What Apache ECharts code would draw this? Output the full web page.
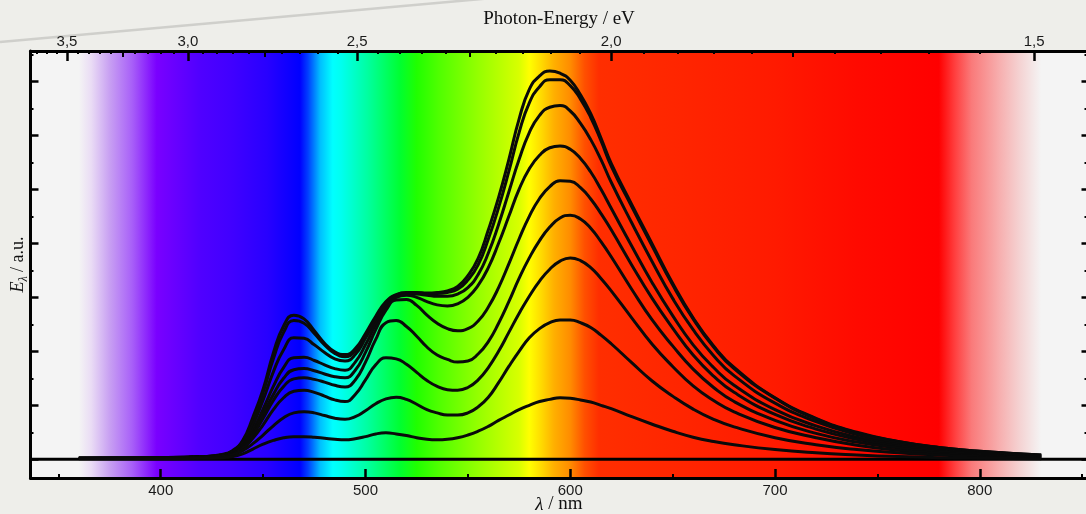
<!DOCTYPE html>
<html>
<head>
<meta charset="utf-8">
<script src="https://cdn.jsdelivr.net/npm/echarts@6/dist/echarts.min.js"></script>
<style>
  html, body { margin: 0; padding: 0; background: #eeeeea; }
  #chart { width: 1086px; height: 514px; }
</style>
</head>
<body>
<div id="chart"></div>
<script>
// ---------- data ----------
const wavelengths = [360, 400, 420, 430, 435, 440, 445, 450, 455, 460, 465, 470, 475, 480, 485, 490, 495, 500, 505, 510, 515, 520, 525, 530, 535, 540, 545, 550, 555, 560, 565, 570, 575, 580, 585, 590, 595, 600, 605, 610, 615, 620, 630, 640, 650, 660, 670, 680, 700, 720, 740, 760, 780, 800, 830];

const c1 = [0.02, 0.03, 0.05, 0.09, 0.16, 0.35, 0.78, 1.30, 1.97, 2.47, 2.67, 2.60, 2.38, 2.15, 1.99, 1.94, 2.05, 2.33, 2.65, 2.92, 3.05, 3.09, 3.09, 3.08, 3.09, 3.12, 3.20, 3.40, 3.72, 4.25, 4.85, 5.55, 6.30, 6.85, 7.10, 7.19, 7.15, 7.02, 6.75, 6.40, 5.95, 5.48, 4.72, 3.99, 3.26, 2.62, 2.10, 1.70, 1.14, 0.76, 0.50, 0.33, 0.22, 0.15, 0.08];
const c2 = [0.02, 0.03, 0.05, 0.08, 0.15, 0.33, 0.72, 1.24, 1.86, 2.35, 2.57, 2.52, 2.33, 2.12, 1.96, 1.90, 2.01, 2.29, 2.62, 2.90, 3.04, 3.08, 3.08, 3.07, 3.07, 3.09, 3.15, 3.32, 3.60, 4.08, 4.66, 5.33, 6.05, 6.60, 6.90, 7.03, 7.03, 6.92, 6.67, 6.33, 5.90, 5.43, 4.68, 3.95, 3.23, 2.60, 2.08, 1.68, 1.13, 0.75, 0.49, 0.33, 0.22, 0.15, 0.08];
const c3 = [0.02, 0.03, 0.05, 0.08, 0.14, 0.30, 0.64, 1.10, 1.62, 2.03, 2.25, 2.24, 2.12, 1.98, 1.86, 1.82, 1.94, 2.24, 2.58, 2.87, 3.03, 3.07, 3.06, 3.04, 3.02, 3.02, 3.06, 3.18, 3.42, 3.82, 4.35, 4.95, 5.55, 6.05, 6.37, 6.52, 6.55, 6.45, 6.22, 5.92, 5.55, 5.13, 4.38, 3.66, 2.98, 2.40, 1.92, 1.55, 1.04, 0.70, 0.46, 0.30, 0.20, 0.14, 0.07];
const c4 = [0.02, 0.03, 0.04, 0.07, 0.12, 0.27, 0.55, 0.93, 1.35, 1.70, 1.88, 1.89, 1.83, 1.75, 1.68, 1.65, 1.80, 2.12, 2.50, 2.82, 3.00, 3.04, 3.00, 2.92, 2.86, 2.84, 2.88, 3.00, 3.22, 3.55, 4.00, 4.50, 5.00, 5.38, 5.63, 5.77, 5.80, 5.74, 5.57, 5.32, 5.00, 4.65, 3.95, 3.27, 2.66, 2.12, 1.70, 1.37, 0.92, 0.62, 0.41, 0.27, 0.18, 0.12, 0.06];
const c5 = [0.02, 0.03, 0.04, 0.07, 0.11, 0.24, 0.49, 0.83, 1.20, 1.50, 1.66, 1.68, 1.64, 1.58, 1.53, 1.51, 1.65, 1.98, 2.40, 2.76, 2.95, 2.96, 2.85, 2.67, 2.52, 2.42, 2.38, 2.42, 2.56, 2.82, 3.18, 3.62, 4.08, 4.50, 4.83, 5.05, 5.16, 5.15, 5.03, 4.82, 4.55, 4.25, 3.60, 2.98, 2.43, 1.93, 1.54, 1.24, 0.83, 0.56, 0.37, 0.24, 0.16, 0.11, 0.05];
const c6 = [0.02, 0.03, 0.04, 0.06, 0.10, 0.22, 0.45, 0.76, 1.09, 1.35, 1.49, 1.51, 1.48, 1.43, 1.37, 1.34, 1.47, 1.80, 2.22, 2.53, 2.57, 2.46, 2.28, 2.08, 1.93, 1.85, 1.80, 1.82, 1.95, 2.18, 2.52, 2.92, 3.35, 3.73, 4.05, 4.30, 4.47, 4.52, 4.45, 4.28, 4.03, 3.75, 3.15, 2.58, 2.10, 1.67, 1.33, 1.07, 0.72, 0.48, 0.32, 0.21, 0.14, 0.09, 0.04];
const c7 = [0.02, 0.03, 0.04, 0.06, 0.09, 0.20, 0.39, 0.64, 0.92, 1.14, 1.26, 1.28, 1.24, 1.17, 1.10, 1.07, 1.20, 1.47, 1.75, 1.88, 1.86, 1.76, 1.61, 1.46, 1.35, 1.29, 1.28, 1.33, 1.47, 1.70, 2.00, 2.35, 2.70, 3.02, 3.30, 3.52, 3.67, 3.73, 3.68, 3.55, 3.35, 3.12, 2.62, 2.13, 1.72, 1.36, 1.09, 0.88, 0.59, 0.40, 0.26, 0.17, 0.11, 0.07, 0.03];
const c8 = [0.02, 0.02, 0.03, 0.05, 0.08, 0.16, 0.29, 0.45, 0.62, 0.77, 0.86, 0.88, 0.86, 0.81, 0.76, 0.74, 0.79, 0.90, 1.03, 1.12, 1.15, 1.11, 1.02, 0.92, 0.86, 0.82, 0.82, 0.86, 0.97, 1.15, 1.42, 1.72, 2.00, 2.25, 2.42, 2.53, 2.58, 2.58, 2.53, 2.44, 2.30, 2.14, 1.79, 1.45, 1.17, 0.93, 0.74, 0.60, 0.40, 0.27, 0.18, 0.12, 0.08, 0.05, 0.02];
const c9 = [0.01, 0.01, 0.02, 0.03, 0.05, 0.10, 0.19, 0.28, 0.35, 0.40, 0.42, 0.42, 0.41, 0.39, 0.37, 0.36, 0.38, 0.42, 0.47, 0.49, 0.47, 0.44, 0.40, 0.37, 0.36, 0.37, 0.40, 0.45, 0.52, 0.61, 0.72, 0.82, 0.92, 1.00, 1.07, 1.11, 1.14, 1.13, 1.10, 1.06, 1.00, 0.94, 0.79, 0.65, 0.52, 0.41, 0.33, 0.27, 0.18, 0.12, 0.08, 0.05, 0.03, 0.02, 0.01];
const spectra = [c1, c2, c3, c4, c5, c6, c7, c8, c9];

const nmTicks = [400, 500, 600, 700, 800];
const nmMinorTicks = [350, 450, 550, 650, 750, 850];
const eVTicks = [3.5, 3.0, 2.5, 2.0, 1.5];
const eVLabels = ['3,5', '3,0', '2,5', '2,0', '1,5'];
const eVMidTicks = [3.25, 2.75, 2.25, 1.75];
const eVMinorTicks = [3.65, 3.6, 3.55, 3.45, 3.4, 3.35, 3.3, 3.2, 3.15, 3.1, 3.05, 2.95, 2.9, 2.85, 2.8, 2.7, 2.65, 2.6, 2.55, 2.45, 2.4, 2.35, 2.3, 2.2, 2.15, 2.1, 2.05, 1.95, 1.9, 1.85, 1.8, 1.7, 1.65, 1.6, 1.55, 1.45];
const yMajorTicks = [0, 1, 2, 3, 4, 5, 6, 7];
const yMinorTicks = [0.5, 1.5, 2.5, 3.5, 4.5, 5.5, 6.5, 7.5];

// visible spectrum band behind the curves (wavelength, colour)
const spectrumNm = [360, 366, 375, 386, 398, 419, 435, 452, 468, 472, 478, 484, 488, 501, 517, 525, 536, 556, 575, 580, 585, 592, 600, 607, 614, 650, 700, 740, 780, 788, 796, 810, 820, 830];
const spectrumColors = ['#f4f4f4', '#eadcf5', '#c8a0f2', '#a860f8', '#7a00ff', '#5000ff', '#4000ff', '#2800ff', '#0000ff', '#0040ff', '#00c0ff', '#00ffff', '#00fff0', '#00ffa0', '#00ff30', '#20ff00', '#50ff00', '#98ff00', '#d8ff00', '#ffff00', '#ffe000', '#ffb000', '#ff8c00', '#ff5000', '#ff2e00', '#ff2600', '#ff1a00', '#ff0a00', '#ff0000', '#ff4040', '#fa7a7a', '#f7b0b0', '#f4d4d4', '#f4f4f4'];

// ---------- chart ----------
const X_MIN = 336.4, X_MAX = 852.6;
const Y_MIN = -0.346, Y_MAX = 7.561;
const HC = 1239.84; // eV*nm
const toNm = e => HC / e;

const chart = echarts.init(document.getElementById('chart'));

const stops = spectrumNm.map((w, i) => ({
  offset: (w - spectrumNm[0]) / (spectrumNm[spectrumNm.length - 1] - spectrumNm[0]),
  color: spectrumColors[i]
}));

const baseX = {
  type: 'value', min: X_MIN, max: X_MAX, gridIndex: 0, z: 10,
  splitLine: { show: false },
  axisLine: { show: false, onZero: false },
  axisLabel: { show: false },
  axisTick: { show: false }
};
const baseY = {
  type: 'value', min: Y_MIN, max: Y_MAX, gridIndex: 0, z: 10,
  splitLine: { show: false },
  axisLine: { show: false, onZero: false },
  axisLabel: { show: false },
  axisTick: { show: false }
};
const tick = (vals, len, w) => ({
  show: true, inside: true, length: len, customValues: vals,
  lineStyle: { color: '#000', width: w }
});
const line3 = { show: true, onZero: false, lineStyle: { color: '#000', width: 3 } };
const SERIF = 'Liberation Serif, Times New Roman, serif';
const SANS = 'Liberation Sans, Arial, sans-serif';

const eVPos = eVTicks.map(toNm);

const option = {
  backgroundColor: '#eeeeea',
  animation: false,
  graphic: [{
    type: 'line', silent: true, z: -1,
    shape: { x1: 0, y1: 42, x2: 560, y2: -8 },
    style: { stroke: 'rgba(150,150,145,0.35)', lineWidth: 2.5 }
  }],
  grid: {
    left: 30.5, top: 51, width: 1057, height: 427,
    containLabel: false, outerBoundsMode: 'none',
    show: true, backgroundColor: '#f4f4f4', borderWidth: 0
  },
  xAxis: [
    Object.assign({}, baseX, {
      position: 'bottom',
      axisLine: line3,
      axisTick: tick(nmTicks, 9, 2.5),
      axisLabel: { show: true, customValues: nmTicks, fontSize: 15, color: '#1a1a1a', fontFamily: SANS, margin: 5 },
      name: '{i|λ} / nm',
      nameLocation: 'middle', nameGap: 17, nameMoveOverlap: false,
      nameTextStyle: {
        fontFamily: SERIF, fontSize: 19, color: '#111',
        rich: { i: { fontStyle: 'italic', fontFamily: SERIF, fontSize: 19, color: '#111' } }
      }
    }),
    Object.assign({}, baseX, { position: 'bottom', axisTick: tick(nmMinorTicks, 4, 2) }),
    Object.assign({}, baseX, {
      position: 'top',
      axisLine: line3,
      axisTick: tick(eVPos, 10, 2.5),
      axisLabel: {
        show: true, customValues: eVPos, fontSize: 15, color: '#1a1a1a',
        fontFamily: SANS, margin: 2,
        formatter: v => {
          let best = 0;
          eVPos.forEach((p, i) => { if (Math.abs(p - v) < Math.abs(eVPos[best] - v)) best = i; });
          return eVLabels[best];
        }
      },
      name: 'Photon-Energy / eV',
      nameLocation: 'middle', nameGap: 22, nameMoveOverlap: false,
      nameTextStyle: { fontFamily: SERIF, fontSize: 19, color: '#111' }
    }),
    Object.assign({}, baseX, { position: 'top', axisTick: tick(eVMidTicks.map(toNm), 6, 2) }),
    Object.assign({}, baseX, { position: 'top', axisTick: tick(eVMinorTicks.map(toNm), 3, 2) })
  ],
  yAxis: [
    Object.assign({}, baseY, {
      position: 'left',
      axisLine: line3,
      axisTick: tick(yMajorTicks, 8, 2.5),
      name: '{e|E}{s|λ}{n| / a.u.}',
      nameLocation: 'middle', nameGap: 1, nameMoveOverlap: false,
      nameTextStyle: {
        fontFamily: SERIF, fontSize: 18, color: '#111',
        rich: {
          e: { fontStyle: 'italic', fontFamily: SERIF, fontSize: 18, color: '#111' },
          s: { fontStyle: 'italic', fontFamily: SERIF, fontSize: 12, color: '#111', padding: [10, 0, 0, 0] },
          n: { fontFamily: SERIF, fontSize: 18, color: '#111' }
        }
      }
    }),
    Object.assign({}, baseY, { position: 'left', axisTick: tick(yMinorTicks, 3, 2) }),
    Object.assign({}, baseY, { position: 'right', axisLine: line3, axisTick: tick(yMajorTicks, 6, 2.5) }),
    Object.assign({}, baseY, { position: 'right', axisTick: tick(yMinorTicks, 3, 2) })
  ],
  series: [
    {
      type: 'line', xAxisIndex: 0, yAxisIndex: 0, z: 1, silent: true,
      data: [[360, 0]], showSymbol: false, lineStyle: { opacity: 0 },
      markArea: {
        silent: true,
        itemStyle: { color: new echarts.graphic.LinearGradient(0, 0, 1, 0, stops) },
        data: [[{ xAxis: spectrumNm[0] }, { xAxis: spectrumNm[spectrumNm.length - 1] }]]
      }
    },
    {
      type: 'line', xAxisIndex: 0, yAxisIndex: 0, z: 3, silent: true,
      data: [[X_MIN, 0], [X_MAX, 0]], showSymbol: false,
      lineStyle: { color: '#000', width: 3 }
    }
  ].concat(spectra.map(s => ({
    type: 'line', xAxisIndex: 0, yAxisIndex: 0, z: 4, silent: true,
    data: wavelengths.map((w, i) => [w, s[i]]),
    smooth: 0.5, showSymbol: false,
    lineStyle: { color: '#0a0a0a', width: 3 }
  })))
};
chart.setOption(option);
</script>
</body>
</html>
